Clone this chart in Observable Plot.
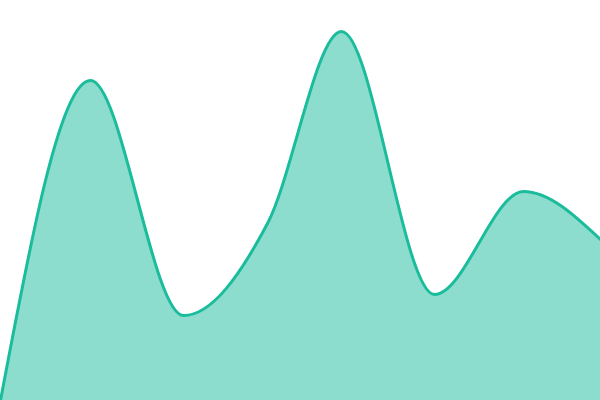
<!DOCTYPE html>
<html>
<head>
<meta charset="utf-8">
<script src="https://cdn.jsdelivr.net/npm/d3@7"></script>
<script src="https://cdn.jsdelivr.net/npm/@observablehq/plot@0.6"></script>
<style>
  html, body { margin: 0; padding: 0; background: #fff; }
  svg { display: block; }
</style>
</head>
<body>
<div id="chart"></div>
<script>
const xs = [0, 9, 18.3, 26.7, 34.1, 43.4, 52.3, 60];
const values = [0, 320, 85, 177, 369, 106, 209, 161];
const data = xs.map((x, i) => ({x, v: values[i]}));

const chart = Plot.plot({
  width: 600,
  height: 400,
  margin: 0,
  x: {domain: [0, 60], axis: null},
  y: {domain: [0, 400], axis: null},
  marks: [
    Plot.areaY(data, {x: "x", y: "v", curve: "monotone-x", fill: "#1abc9c", fillOpacity: 0.5}),
    Plot.lineY(data, {x: "x", y: "v", curve: "monotone-x", stroke: "#1abc9c", strokeWidth: 3})
  ]
});
document.getElementById("chart").appendChild(chart);
</script>
</body>
</html>
